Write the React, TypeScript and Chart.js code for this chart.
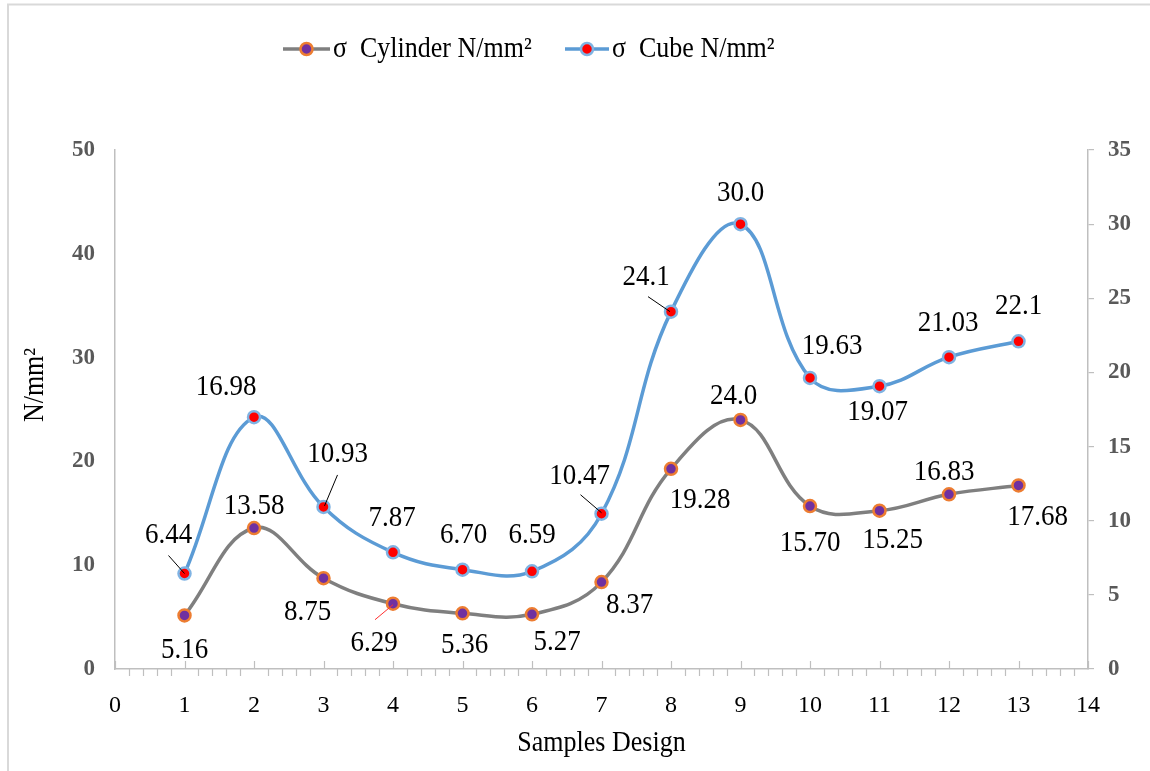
import React, { useEffect, useRef } from "react";
import { Chart, registerables } from "chart.js";

Chart.register(...registerables);

// ---- data ----
const samples = [1, 2, 3, 4, 5, 6, 7, 8, 9, 10, 11, 12, 13];
const cylinder = [5.16, 13.58, 8.75, 6.29, 5.36, 5.27, 8.37, 19.28, 24.0, 15.7, 15.25, 16.83, 17.68];
const cube = [6.44, 16.98, 10.93, 7.87, 6.7, 6.59, 10.47, 24.1, 30.0, 19.63, 19.07, 21.03, 22.1];
const cylinderText = ["5.16", "13.58", "8.75", "6.29", "5.36", "5.27", "8.37", "19.28", "24.0", "15.70", "15.25", "16.83", "17.68"];
const cubeText = ["6.44", "16.98", "10.93", "7.87", "6.70", "6.59", "10.47", "24.1", "30.0", "19.63", "19.07", "21.03", "22.1"];
const seriesNames = ["σ  Cylinder N/mm²", "σ  Cube N/mm²"];
const xTitle = "Samples Design";
const yTitle = "N/mm²";

// ---- label placement (px offsets of label centre from the point) ----
const cylinderLabelOffsets = [
  [0, 35], [0, -22], [-16, 34], [-19, 39], [2, 32], [25, 28], [28, 23],
  [29, 31], [-7, -24], [0, 37], [13, 29], [-5, -22], [19, 32],
];
const cubeLabelOffsets = [
  [-16, -38], [-28, -30], [14, -53], [-1, -34], [1, -35], [0, -36], [-22, -38],
  [-25, -35], [0, -31], [22, -32], [-2, 26], [-1, -34], [0, -35],
];
// leader lines: [series, index, x0, y0, x1, y1, colour] offsets relative to point
const leaders: [string, number, number, number, number, number, string][] = [
  ["cube", 0, -16, -18, 0, 0, "#000000"],
  ["cube", 2, 14, -32, 1, -1, "#000000"],
  ["cube", 6, -21, -19, 0, -1, "#000000"],
  ["cube", 7, -23, -15, -1, 0, "#000000"],
  ["cyl", 3, -18, 16, 0, 1, "#FF3030"],
];

const SERIF = "'Liberation Serif', 'Times New Roman', serif";
const STRETCH = 1.12;

function tallText(ctx: CanvasRenderingContext2D, text: string, x: number, y: number) {
  ctx.save();
  ctx.translate(x, y);
  ctx.scale(1, STRETCH);
  ctx.fillText(text, 0, 0);
  ctx.restore();
}

const decorPlugin = {
  id: "decor",
  beforeDraw(chart: any) {
    const ctx = chart.ctx;
    ctx.save();
    ctx.fillStyle = "#ffffff";
    ctx.fillRect(0, 0, chart.width, chart.height);
    ctx.strokeStyle = "#D9D9D9";
    ctx.lineWidth = 2;
    ctx.beginPath();
    ctx.moveTo(8, chart.height + 5);
    ctx.lineTo(8, 4.5);
    ctx.lineTo(chart.width + 5, 4.5);
    ctx.stroke();
    ctx.restore();
  },
  afterDraw(chart: any) {
    const ctx = chart.ctx;
    const xs = chart.scales.x;
    const area = chart.chartArea;
    ctx.save();
    // x-axis tick marks
    ctx.strokeStyle = "#BFBFBF";
    ctx.lineWidth = 1.2;
    for (let i = 0; i <= 70; i++) {
      const v = i / 5;
      const px = Math.round(xs.getPixelForValue(v)) + 0.5;
      ctx.beginPath();
      if (i % 5 === 0) {
        ctx.moveTo(px, area.bottom - 8);
        ctx.lineTo(px, area.bottom);
      } else {
        ctx.moveTo(px, area.bottom);
        ctx.lineTo(px, area.bottom + 7);
      }
      ctx.stroke();
    }
    // titles
    ctx.fillStyle = "#000000";
    ctx.font = `26px ${SERIF}`;
    ctx.textAlign = "center";
    ctx.textBaseline = "middle";
    tallText(ctx, xTitle, (area.left + area.right) / 2, 743);
    ctx.save();
    ctx.translate(35, 385);
    ctx.rotate(-Math.PI / 2);
    ctx.scale(1, STRETCH);
    ctx.fillText(yTitle, 0, 0);
    ctx.restore();

    // legend
    const items = [
      { x0: 283, x1: 330, text: seriesNames[0], line: "#7F7F7F", fill: "#7030A0", border: "#ED7D31" },
      { x0: 565, x1: 609, text: seriesNames[1], line: "#5B9BD5", fill: "#FF0000", border: "#7FB3E3" },
    ];
    const ly = 49;
    for (const it of items) {
      ctx.strokeStyle = it.line;
      ctx.lineWidth = 3.5;
      ctx.beginPath();
      ctx.moveTo(it.x0, ly);
      ctx.lineTo(it.x1, ly);
      ctx.stroke();
      ctx.beginPath();
      ctx.arc((it.x0 + it.x1) / 2, ly, 6, 0, Math.PI * 2);
      ctx.fillStyle = it.fill;
      ctx.fill();
      ctx.lineWidth = 2.5;
      ctx.strokeStyle = it.border;
      ctx.stroke();
      ctx.fillStyle = "#000000";
      ctx.textAlign = "left";
      ctx.font = `26px ${SERIF}`;
      tallText(ctx, it.text, it.x1 + 3, ly);
    }
    ctx.restore();
  },
  afterDatasetsDraw(chart: any) {
    const ctx = chart.ctx;
    const cylMeta = chart.getDatasetMeta(0);
    const cubeMeta = chart.getDatasetMeta(1);
    ctx.save();
    // leaders
    for (const [s, i, x0, y0, x1, y1, col] of leaders) {
      const el = (s === "cube" ? cubeMeta : cylMeta).data[i];
      ctx.strokeStyle = col;
      ctx.lineWidth = 1;
      ctx.beginPath();
      ctx.moveTo(el.x + x0, el.y + y0);
      ctx.lineTo(el.x + x1, el.y + y1);
      ctx.stroke();
    }
    ctx.fillStyle = "#000000";
    ctx.font = `27px ${SERIF}`;
    ctx.textAlign = "center";
    ctx.textBaseline = "middle";
    cylMeta.data.forEach((el: any, i: number) => {
      const [dx, dy] = cylinderLabelOffsets[i];
      tallText(ctx, cylinderText[i], el.x + dx, el.y + dy);
    });
    cubeMeta.data.forEach((el: any, i: number) => {
      const [dx, dy] = cubeLabelOffsets[i];
      tallText(ctx, cubeText[i], el.x + dx, el.y + dy);
    });
    ctx.restore();
  },
};

export default function App() {
  const ref = useRef<HTMLCanvasElement | null>(null);
  useEffect(() => {
    if (!ref.current) return;
    const chart = new Chart(ref.current, {
      type: "line",
      data: {
        datasets: [
          {
            label: seriesNames[0],
            data: samples.map((s, i) => ({ x: s, y: cylinder[i] })),
            yAxisID: "y",
            borderColor: "#7F7F7F",
            borderWidth: 3.5,
            tension: 0.4,
            pointRadius: 6,
            pointBorderWidth: 2.5,
            pointBackgroundColor: "#7030A0",
            pointBorderColor: "#ED7D31",
            fill: false,
          },
          {
            label: seriesNames[1],
            data: samples.map((s, i) => ({ x: s, y: cube[i] })),
            yAxisID: "y1",
            borderColor: "#5B9BD5",
            borderWidth: 3.5,
            tension: 0.4,
            pointRadius: 6,
            pointBorderWidth: 2.5,
            pointBackgroundColor: "#FF0000",
            pointBorderColor: "#7FB3E3",
            fill: false,
          },
        ],
      },
      options: {
        animation: false,
        responsive: false,
        layout: { padding: { top: 150, left: 0, right: 0, bottom: 0 } },
        plugins: { legend: { display: false }, tooltip: { enabled: false } },
        scales: {
          x: {
            type: "linear",
            position: "bottom",
            min: 0,
            max: 14,
            afterFit: (s: any) => { s.height = 102; },
            grid: { display: false, drawTicks: false },
            border: { display: true, color: "#BFBFBF", width: 1.5 },
            ticks: { stepSize: 1, padding: 22, color: "#000000", font: { family: SERIF, size: 24 }, maxRotation: 0 },
          },
          y: {
            position: "left",
            min: 0,
            max: 50,
            afterFit: (s: any) => { s.width = 115; },
            grid: { display: false, drawTicks: false },
            border: { display: true, color: "#BFBFBF", width: 1.5 },
            ticks: { stepSize: 10, padding: 20, color: "#595959", font: { family: SERIF, size: 23, weight: "bold" } },
          },
          y1: {
            position: "right",
            min: 0,
            max: 35,
            afterFit: (s: any) => { s.width = 62; },
            grid: { display: true, drawOnChartArea: false, drawTicks: true, tickLength: 6, color: "#BFBFBF", lineWidth: 1.2 },
            border: { display: true, color: "#BFBFBF", width: 1.5 },
            ticks: { stepSize: 5, padding: 14, color: "#595959", font: { family: SERIF, size: 23, weight: "bold" } },
          },
        },
      },
      plugins: [decorPlugin],
    } as any);
    return () => chart.destroy();
  }, []);
  return (
    <div style={{ position: "absolute", left: 0, top: 0, width: 1150, height: 771 }}>
      <canvas ref={ref} width={1150} height={771} style={{ display: "block" }} />
    </div>
  );
}
